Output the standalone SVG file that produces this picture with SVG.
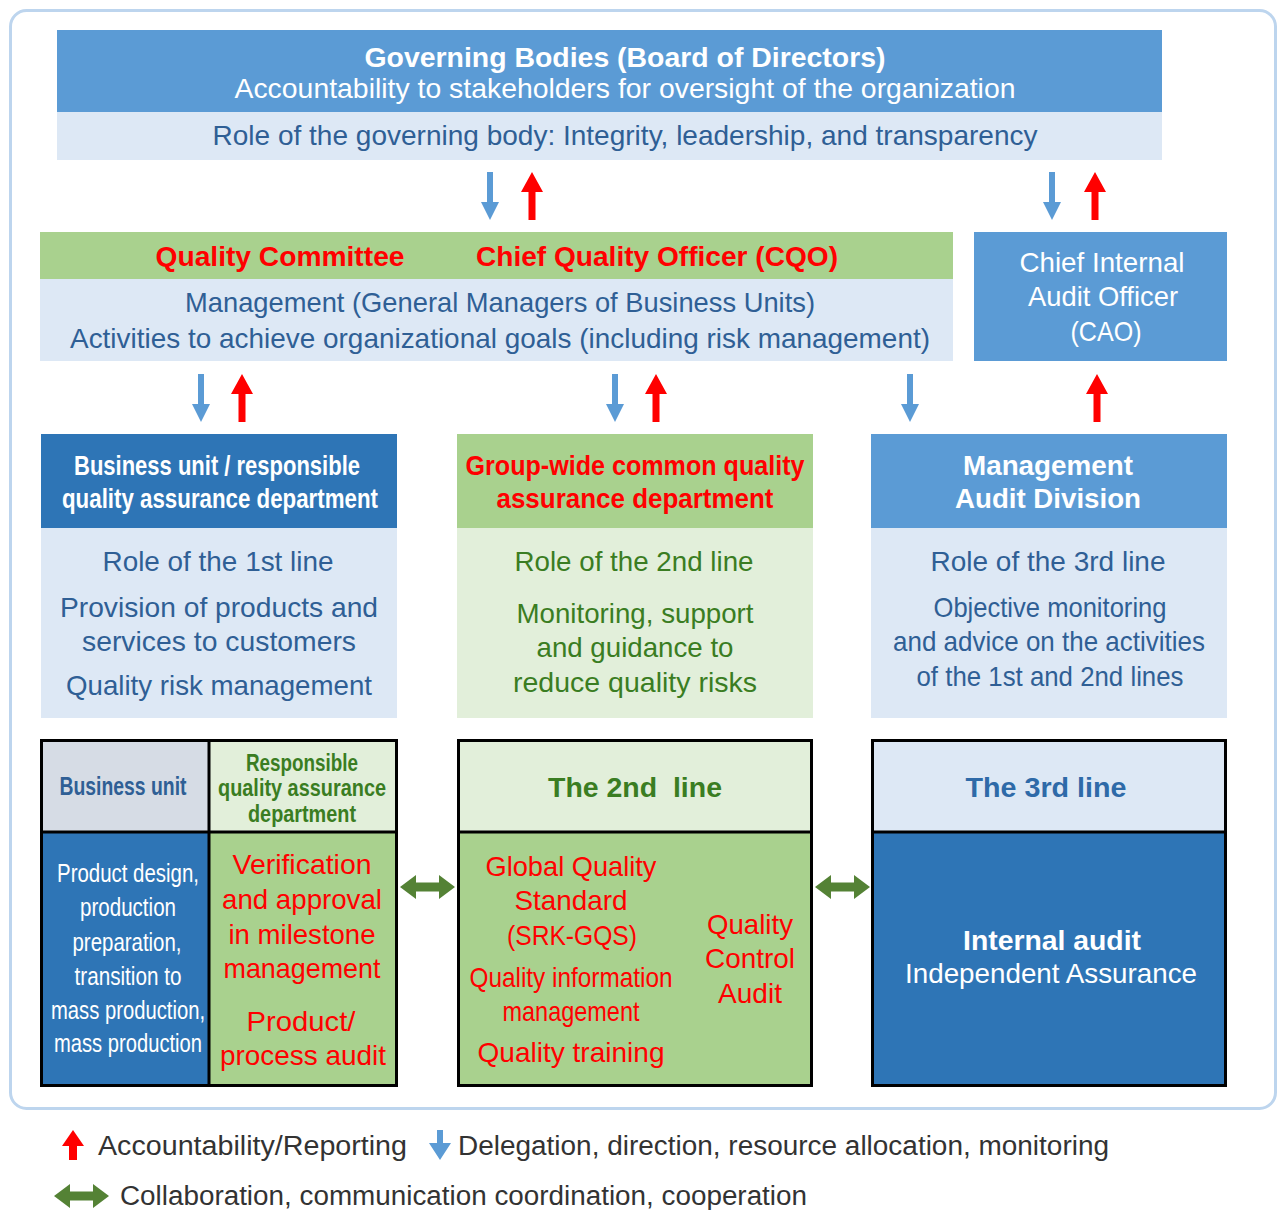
<svg xmlns="http://www.w3.org/2000/svg" width="1279" height="1210" viewBox="0 0 1279 1210">
<style>
text{font-family:"Liberation Sans",Arial,sans-serif;text-anchor:middle}
.t28{font-size:28px}
.b{font-weight:bold}
.w{fill:#ffffff}
.db{fill:#2f5f95}
.red{fill:#ff0000}
.grn{fill:#3a7d22}
.leg{fill:#333333;text-anchor:start;font-size:27px}
.box{stroke:#000;stroke-width:3;fill:none}
.ln{stroke:#000;stroke-width:3}
</style>
<defs>
<polygon id="dn" points="-3,0 3,0 3,30 9,30 0,48 -9,30 -3,30" fill="#5b9bd5"/>
<polygon id="up" points="0,0 11,20 3.5,20 3.5,48 -3.5,48 -3.5,20 -11,20" fill="#ff0000"/>
<polygon id="dbl" points="0,0 16,-12 16,-4.5 39,-4.5 39,-12 55,0 39,12 39,4.5 16,4.5 16,12" fill="#548235"/>
</defs>
<rect x="0" y="0" width="1279" height="1210" fill="#ffffff"/>
<rect x="10.5" y="10.5" width="1265" height="1098" rx="16" fill="none" stroke="#bdd5ee" stroke-width="3"/>

<g id="governing">
<rect x="57" y="30" width="1105" height="82" fill="#5b9bd5"/>
<rect x="57" y="112" width="1105" height="48" fill="#dde8f5"/>
<text class="t28 b w" x="625" y="67" textLength="521" lengthAdjust="spacingAndGlyphs">Governing Bodies (Board of Directors)</text>
<text class="t28 w" x="625" y="98" textLength="781" lengthAdjust="spacingAndGlyphs">Accountability to stakeholders for oversight of the organization</text>
<text class="t28 db" x="625" y="145" textLength="825" lengthAdjust="spacingAndGlyphs">Role of the governing body: Integrity, leadership, and transparency</text>
</g>

<g id="management">
<rect x="40" y="232" width="913" height="47" fill="#a9d18e"/>
<rect x="40" y="279" width="913" height="82" fill="#dde8f5"/>
<text class="t28 b red" x="280" y="266" textLength="249" lengthAdjust="spacingAndGlyphs">Quality Committee</text>
<text class="t28 b red" x="657" y="266" textLength="362" lengthAdjust="spacingAndGlyphs">Chief Quality Officer (CQO)</text>
<text class="t28 db" x="500" y="312" textLength="630" lengthAdjust="spacingAndGlyphs">Management (General Managers of Business Units)</text>
<text class="t28 db" x="500" y="348" textLength="860" lengthAdjust="spacingAndGlyphs">Activities to achieve organizational goals (including risk management)</text>
</g>

<g id="cao">
<rect x="974" y="232" width="253" height="129" fill="#5b9bd5"/>
<text class="t28 w" x="1102" y="272" textLength="165" lengthAdjust="spacingAndGlyphs">Chief Internal</text>
<text class="t28 w" x="1103" y="306" textLength="150" lengthAdjust="spacingAndGlyphs">Audit Officer</text>
<text class="t28 w" x="1106" y="341" textLength="71" lengthAdjust="spacingAndGlyphs">(CAO)</text>
</g>

<g id="first-line">
<rect x="41" y="434" width="356" height="94" fill="#2e75b6"/>
<rect x="41" y="528" width="356" height="190" fill="#dde8f5"/>
<text class="t28 b w" x="217" y="475" textLength="286" lengthAdjust="spacingAndGlyphs">Business unit / responsible</text>
<text class="t28 b w" x="220" y="508" textLength="316" lengthAdjust="spacingAndGlyphs">quality assurance department</text>
<text class="t28 db" x="218" y="571" textLength="231" lengthAdjust="spacingAndGlyphs">Role of the 1st line</text>
<text class="t28 db" x="219" y="617" textLength="318" lengthAdjust="spacingAndGlyphs">Provision of products and</text>
<text class="t28 db" x="219" y="651" textLength="274" lengthAdjust="spacingAndGlyphs">services to customers</text>
<text class="t28 db" x="219" y="695" textLength="306" lengthAdjust="spacingAndGlyphs">Quality risk management</text>
</g>

<g id="second-line">
<rect x="457" y="434" width="356" height="94" fill="#a9d18e"/>
<rect x="457" y="528" width="356" height="190" fill="#e2efda"/>
<text class="t28 b red" x="635" y="475" textLength="339" lengthAdjust="spacingAndGlyphs">Group-wide common quality</text>
<text class="t28 b red" x="635" y="508" textLength="277" lengthAdjust="spacingAndGlyphs">assurance department</text>
<text class="t28 grn" x="634" y="571" textLength="239" lengthAdjust="spacingAndGlyphs">Role of the 2nd line</text>
<text class="t28 grn" x="635" y="623" textLength="237" lengthAdjust="spacingAndGlyphs">Monitoring, support</text>
<text class="t28 grn" x="635" y="657" textLength="197" lengthAdjust="spacingAndGlyphs">and guidance to</text>
<text class="t28 grn" x="635" y="692" textLength="244" lengthAdjust="spacingAndGlyphs">reduce quality risks</text>
</g>

<g id="third-line">
<rect x="871" y="434" width="356" height="94" fill="#5b9bd5"/>
<rect x="871" y="528" width="356" height="190" fill="#dde8f5"/>
<text class="t28 b w" x="1048" y="475" textLength="170" lengthAdjust="spacingAndGlyphs">Management</text>
<text class="t28 b w" x="1048" y="508" textLength="186" lengthAdjust="spacingAndGlyphs">Audit Division</text>
<text class="t28 db" x="1048" y="571" textLength="235" lengthAdjust="spacingAndGlyphs">Role of the 3rd line</text>
<text class="t28 db" x="1050" y="617" textLength="233" lengthAdjust="spacingAndGlyphs">Objective monitoring</text>
<text class="t28 db" x="1049" y="651" textLength="312" lengthAdjust="spacingAndGlyphs">and advice on the activities</text>
<text class="t28 db" x="1050" y="686" textLength="267" lengthAdjust="spacingAndGlyphs">of the 1st and 2nd lines</text>
</g>

<g id="first-line-detail">
<rect x="41" y="740" width="168" height="92" fill="#d6dce5"/>
<rect x="209" y="740" width="188" height="92" fill="#e2efda"/>
<rect x="41" y="832" width="168" height="254" fill="#2e75b6"/>
<rect x="209" y="832" width="188" height="254" fill="#a9d18e"/>
<rect class="box" x="41.5" y="740.5" width="355" height="345"/>
<line class="ln" x1="209" y1="740" x2="209" y2="1086"/>
<line class="ln" x1="41" y1="832" x2="397" y2="832"/>
<text class="b" style="font-size:25px;fill:#2f5f95" x="123" y="795" textLength="127" lengthAdjust="spacingAndGlyphs">Business unit</text>
<text class="b" style="font-size:24px;fill:#3a7d22" x="302" y="771" textLength="112" lengthAdjust="spacingAndGlyphs">Responsible</text>
<text class="b" style="font-size:24px;fill:#3a7d22" x="302" y="796" textLength="168" lengthAdjust="spacingAndGlyphs">quality assurance</text>
<text class="b" style="font-size:24px;fill:#3a7d22" x="302" y="822" textLength="108" lengthAdjust="spacingAndGlyphs">department</text>
<text class="w" style="font-size:26px" x="128" y="882" textLength="142" lengthAdjust="spacingAndGlyphs">Product design,</text>
<text class="w" style="font-size:26px" x="128" y="916" textLength="96" lengthAdjust="spacingAndGlyphs">production</text>
<text class="w" style="font-size:26px" x="127" y="951" textLength="109" lengthAdjust="spacingAndGlyphs">preparation,</text>
<text class="w" style="font-size:26px" x="128" y="985" textLength="107" lengthAdjust="spacingAndGlyphs">transition to</text>
<text class="w" style="font-size:26px" x="128" y="1019" textLength="154" lengthAdjust="spacingAndGlyphs">mass production,</text>
<text class="w" style="font-size:26px" x="128" y="1052" textLength="148" lengthAdjust="spacingAndGlyphs">mass production</text>
<text class="t28 red" x="302" y="874" textLength="139" lengthAdjust="spacingAndGlyphs">Verification</text>
<text class="t28 red" x="302" y="909" textLength="160" lengthAdjust="spacingAndGlyphs">and approval</text>
<text class="t28 red" x="302" y="944" textLength="147" lengthAdjust="spacingAndGlyphs">in milestone</text>
<text class="t28 red" x="302" y="978" textLength="157" lengthAdjust="spacingAndGlyphs">management</text>
<text class="t28 red" x="301" y="1031" textLength="109" lengthAdjust="spacingAndGlyphs">Product/</text>
<text class="t28 red" x="303" y="1065" textLength="166" lengthAdjust="spacingAndGlyphs">process audit</text>
</g>

<g id="second-line-detail">
<rect x="458" y="740" width="354" height="92" fill="#e2efda"/>
<rect x="458" y="832" width="354" height="254" fill="#a9d18e"/>
<rect class="box" x="458.5" y="740.5" width="353" height="345"/>
<line class="ln" x1="458" y1="832" x2="812" y2="832"/>
<text class="t28 b" style="fill:#3a7d22" x="635" y="797" textLength="174" lengthAdjust="spacingAndGlyphs" xml:space="preserve">The 2nd  line</text>
<text class="t28 red" x="571" y="876" textLength="171" lengthAdjust="spacingAndGlyphs">Global Quality</text>
<text class="t28 red" x="571" y="910" textLength="113" lengthAdjust="spacingAndGlyphs">Standard</text>
<text class="t28 red" x="572" y="945" textLength="130" lengthAdjust="spacingAndGlyphs">(SRK-GQS)</text>
<text class="t28 red" x="571" y="987" textLength="203" lengthAdjust="spacingAndGlyphs">Quality information</text>
<text class="t28 red" x="571" y="1021" textLength="137" lengthAdjust="spacingAndGlyphs">management</text>
<text class="t28 red" x="571" y="1062" textLength="187" lengthAdjust="spacingAndGlyphs">Quality training</text>
<text class="t28 red" x="750" y="934" textLength="86" lengthAdjust="spacingAndGlyphs">Quality</text>
<text class="t28 red" x="750" y="968" textLength="90" lengthAdjust="spacingAndGlyphs">Control</text>
<text class="t28 red" x="750" y="1003" textLength="64" lengthAdjust="spacingAndGlyphs">Audit</text>
</g>

<g id="third-line-detail">
<rect x="872" y="740" width="354" height="92" fill="#dde8f5"/>
<rect x="872" y="832" width="354" height="254" fill="#2e75b6"/>
<rect class="box" x="872.5" y="740.5" width="353" height="345"/>
<line class="ln" x1="872" y1="832" x2="1226" y2="832"/>
<text class="t28 b" style="fill:#2e6aa8" x="1046" y="797" textLength="161" lengthAdjust="spacingAndGlyphs">The 3rd line</text>
<text class="t28 b w" x="1052" y="950" textLength="178" lengthAdjust="spacingAndGlyphs">Internal audit</text>
<text class="t28 w" x="1051" y="983" textLength="292" lengthAdjust="spacingAndGlyphs">Independent Assurance</text>
</g>

<g id="connectors">
<use href="#dn" x="490" y="172"/>
<use href="#up" x="532" y="172"/>
<use href="#dn" x="1052" y="172"/>
<use href="#up" x="1095" y="172"/>
<use href="#dn" x="201" y="374"/>
<use href="#up" x="242" y="374"/>
<use href="#dn" x="615" y="374"/>
<use href="#up" x="656" y="374"/>
<use href="#dn" x="910" y="374"/>
<use href="#up" x="1097" y="374"/>
<use href="#dbl" x="400" y="887"/>
<use href="#dbl" x="815" y="887"/>
</g>

<g id="legend">
<polygon points="73,1130 84,1146 77,1146 77,1160 69,1160 69,1146 62,1146" fill="#ff0000"/>
<text class="leg" x="98" y="1155" textLength="309" lengthAdjust="spacingAndGlyphs">Accountability/Reporting</text>
<polygon points="437,1130 443,1130 443,1143 451,1143 440,1160 429,1143 437,1143" fill="#5b9bd5"/>
<text class="leg" x="458" y="1155" textLength="651" lengthAdjust="spacingAndGlyphs">Delegation, direction, resource allocation, monitoring</text>
<use href="#dbl" x="54" y="1196"/>
<text class="leg" x="120" y="1205" textLength="687" lengthAdjust="spacingAndGlyphs">Collaboration, communication coordination, cooperation</text>
</g>
</svg>
